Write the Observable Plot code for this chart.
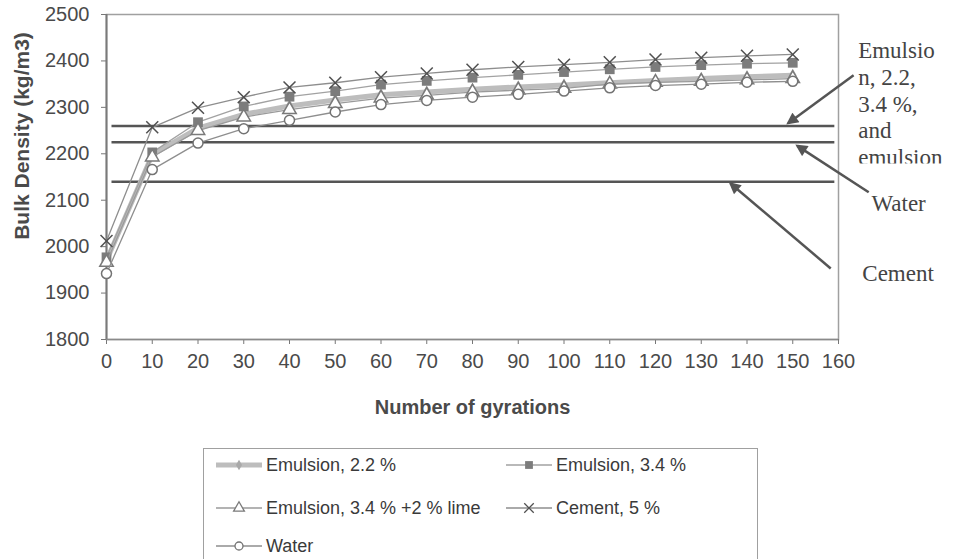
<!DOCTYPE html>
<html>
<head>
<meta charset="utf-8">
<script src="https://cdn.jsdelivr.net/npm/d3@7"></script>
<script src="https://cdn.jsdelivr.net/npm/@observablehq/plot@0.6"></script>
<style>
  body { margin: 0; background: #fff; font-family: "Liberation Sans", Arial, sans-serif; }
  #chart { position: relative; width: 953px; height: 559px; overflow: hidden; }
  #legend { position: absolute; left: 203px; top: 448px; width: 555px; height: 140px;
            border: 1.5px solid #a0a0a0; box-sizing: border-box; background: #fff; }
  .entry { position: absolute; display: flex; align-items: center; height: 24px;
           font-size: 18px; color: #3a3a3a; white-space: nowrap; }
  .entry svg { margin-right: 4px; }
</style>
</head>
<body>
<div id="chart"><div id="legend"></div></div>
<script>
// Number of gyrations in the gyratory compactor
const gyrations = [0, 10, 20, 30, 40, 50, 60, 70, 80, 90, 100, 110, 120, 130, 140, 150];

// Bulk density (kg/m3) for each stabiliser
const emulsion22     = [1970, 2198, 2255, 2285, 2303, 2316, 2327, 2333, 2339, 2344, 2348, 2353, 2358, 2362, 2366, 2369];
const emulsion34     = [1977, 2203, 2268, 2302, 2323, 2335, 2349, 2357, 2364, 2370, 2376, 2382, 2387, 2391, 2394, 2396];
const emulsion34Lime = [1966, 2193, 2250, 2279, 2295, 2308, 2320, 2326, 2333, 2337, 2341, 2350, 2354, 2356, 2359, 2362];
const cement5        = [2012, 2257, 2299, 2322, 2343, 2353, 2365, 2373, 2381, 2387, 2392, 2397, 2403, 2407, 2411, 2414];
const water          = [1942, 2166, 2223, 2254, 2272, 2290, 2306, 2315, 2322, 2328, 2335, 2342, 2347, 2350, 2354, 2356];

const seriesNames = ["Emulsion, 2.2 %", "Emulsion, 3.4 %", "Emulsion, 3.4 % +2 % lime", "Cement, 5 %", "Water"];
const seriesValues = [emulsion22, emulsion34, emulsion34Lime, cement5, water];

// Reference density levels (kg/m3) marked by horizontal lines
const referenceLevels = [2260, 2225, 2140];

// Axis ticks
const xTicks = [0, 10, 20, 30, 40, 50, 60, 70, 80, 90, 100, 110, 120, 130, 140, 150, 160];
const yTicks = [1800, 1900, 2000, 2100, 2200, 2300, 2400, 2500];

const table = seriesNames.flatMap((name, i) =>
  gyrations.map((g, j) => ({series: name, gyrations: g, density: seriesValues[i][j]})));

// Line and marker look of each series
const looks = [
  {line: "#bdbdbd", width: 5,   symbol: "diamond",  fill: "#a9a9a9", stroke: "none",    r: 4},
  {line: "#a2a2a2", width: 1.3, symbol: "square",   fill: "#7c7c7c", stroke: "none",    r: 5.5},
  {line: "#9a9a9a", width: 1.3, symbol: "triangle", fill: "#ffffff", stroke: "#7a7a7a", r: 5},
  {line: "#8e8e8e", width: 1.3, symbol: "times",    fill: "none",    stroke: "#505050", r: 5.5},
  {line: "#8e8e8e", width: 1.3, symbol: "circle",   fill: "#ffffff", stroke: "#737373", r: 5}
];

const seriesMarks = seriesNames.flatMap((name, i) => {
  const rows = table.filter(d => d.series === name);
  const s = looks[i];
  return [
    Plot.line(rows, {x: "gyrations", y: "density", stroke: s.line, strokeWidth: s.width}),
    Plot.dot(rows, {x: "gyrations", y: "density", symbol: s.symbol, r: s.r,
                    fill: s.fill, stroke: s.stroke, strokeWidth: 1.5})
  ];
});

const serif = "'Liberation Serif', 'Times New Roman', serif";

const chart = Plot.plot({
  width: 953,
  height: 420,
  marginLeft: 106,
  marginRight: 115,
  marginTop: 14,
  marginBottom: 81,
  style: {fontFamily: "'Liberation Sans', Arial, sans-serif", color: "#4a4a4a", background: "transparent"},
  x: {domain: [0, 160]},
  y: {domain: [1800, 2500]},
  marks: [
    Plot.frame({stroke: "#a0a0a0", strokeWidth: 1.5}),
    Plot.axisX({ticks: xTicks, tickSize: 5, tickPadding: 9, fontSize: 20, label: null, stroke: "#777",
                tickFormat: d => String(d)}),
    Plot.axisY({ticks: yTicks, tickSize: 5, tickPadding: 12, fontSize: 20, label: null, stroke: "#777",
                tickFormat: d => String(d)}),
    Plot.ruleX([0], {stroke: "#7a7a7a", strokeWidth: 2}),
    Plot.ruleY([1800], {stroke: "#8a8a8a", strokeWidth: 1.5}),
    Plot.ruleY(referenceLevels, {x1: 1.2, x2: 159.2, stroke: "#555", strokeWidth: 2.5}),
    ...seriesMarks,
    // Axis titles
    Plot.text(["Number of gyrations"], {frameAnchor: "bottom", dy: 74, fontWeight: "bold",
      fontSize: 20, fill: "#4a4a4a"}),
    Plot.text(["Bulk Density (kg/m3)"], {frameAnchor: "left", textAnchor: "middle", dx: -84, dy: -41,
      rotate: -90, fontWeight: "bold", fontSize: 21, fill: "#4a4a4a"}),
    // Annotations pointing at the reference levels
    Plot.link([
      {x1: 163.3, y1: 2369, x2: 149.0, y2: 2266},
      {x1: 166.6, y1: 2117, x2: 151.0, y2: 2217},
      {x1: 158.3, y1: 1953, x2: 136.4, y2: 2136}
    ], {x1: "x1", y1: "y1", x2: "x2", y2: "y2", stroke: "#555", strokeWidth: 2.5, ariaLabel: () => "pointer"}),
    Plot.text(["Emulsio\nn, 2.2,\n3.4 %,\nand\nemulsion"], {x: 164.3, y: 2448,
      textAnchor: "start", lineAnchor: "top", lineHeight: 1.17, fontSize: 23,
      fontFamily: serif, fill: "#444"}),
    Plot.text(["Water"], {x: 167.2, y: 2093, textAnchor: "start", fontSize: 23,
      fontFamily: serif, fill: "#444"}),
    Plot.text(["Cement"], {x: 165.2, y: 1942, textAnchor: "start", fontSize: 23,
      fontFamily: serif, fill: "#444"})
  ]
});

const svg = d3.select(chart);
const defs = svg.append("defs");

// Filled arrowheads on the pointer lines
defs.append("marker").attr("id", "pointer-head")
  .attr("viewBox", "0 0 10 10").attr("refX", 8).attr("refY", 5)
  .attr("markerWidth", 5.5).attr("markerHeight", 4.8).attr("orient", "auto")
  .append("path").attr("d", "M0,0L10,5L0,10z").attr("fill", "#555");
svg.selectAll("path").filter(function () { return this.getAttribute("aria-label") === "pointer"; })
  .attr("marker-end", "url(#pointer-head)");

// The multi-line note is cut off by the bottom of its text box
defs.append("clipPath").attr("id", "note-box").attr("clipPathUnits", "userSpaceOnUse")
  .append("rect").attr("x", 0).attr("y", 0).attr("width", 953).attr("height", 163);
const noteText = svg.selectAll("text").filter(function () { return this.textContent.startsWith("Emulsio"); });
noteText.each(function () {
  const wrapper = d3.select(this.parentNode).insert("g", () => this).attr("clip-path", "url(#note-box)");
  wrapper.node().appendChild(this);
});

document.getElementById("chart").prepend(chart);

// Legend
const legend = d3.select("#legend");
const slots = [
  {left: 12, top: 4}, {left: 302, top: 4},
  {left: 12, top: 47}, {left: 302, top: 47},
  {left: 12, top: 85}
];
const shapes = {diamond: d3.symbolDiamond, square: d3.symbolSquare, triangle: d3.symbolTriangle,
                times: d3.symbolTimes, circle: d3.symbolCircle};
seriesNames.forEach((name, i) => {
  const s = looks[i];
  const entry = legend.append("div").attr("class", "entry")
    .style("left", slots[i].left + "px").style("top", slots[i].top + "px");
  const sw = entry.append("svg").attr("width", 46).attr("height", 20);
  sw.append("line").attr("x1", 0).attr("x2", 46).attr("y1", 10).attr("y2", 10)
    .attr("stroke", s.line).attr("stroke-width", s.width);
  sw.append("path").attr("transform", "translate(23,10)")
    .attr("d", d3.symbol(shapes[s.symbol], Math.PI * (s.r * 0.8) ** 2)())
    .attr("fill", s.fill).attr("stroke", s.stroke).attr("stroke-width", 1.3);
  entry.append("span").text(name);
});
</script>
</body>
</html>
